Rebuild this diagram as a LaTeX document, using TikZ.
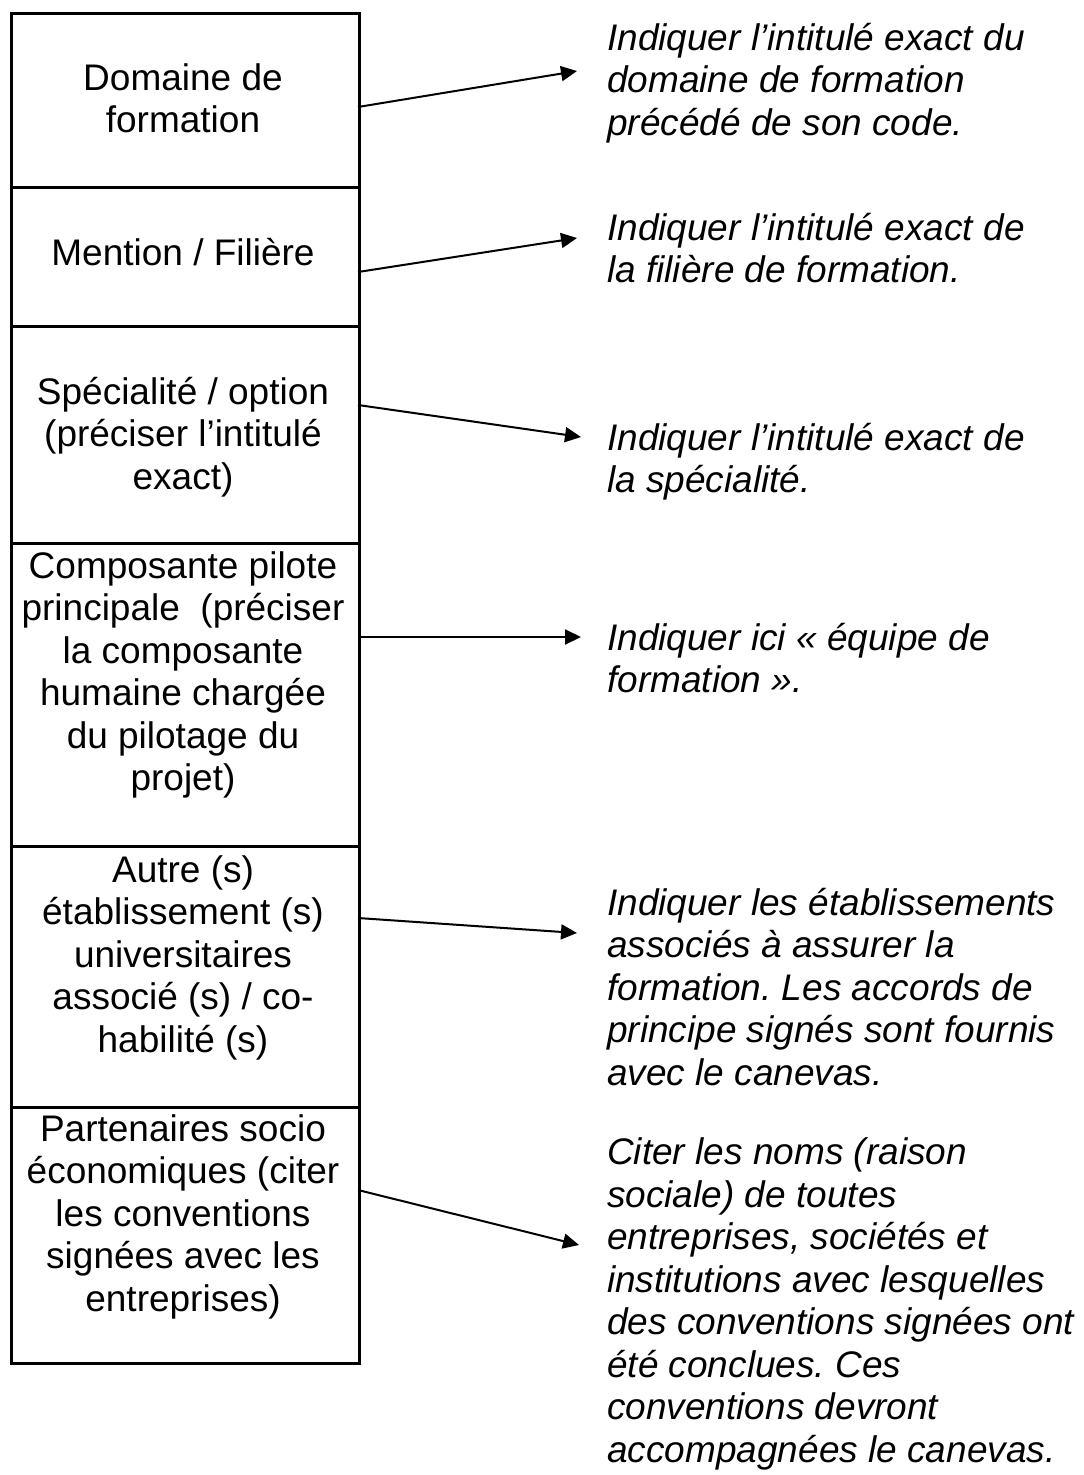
\documentclass[tikz,border=0pt]{standalone}
\usepackage{fontspec}
\setmainfont{Liberation Sans}
\usetikzlibrary{arrows.meta}
\frenchspacing
\begin{document}
\begin{tikzpicture}[x=1pt,y=-1pt,
  rowbox/.style={draw, line width=3pt, minimum width=348pt, inner sep=0pt, anchor=north west},
  lefttext/.style={align=center, anchor=base, inner sep=0pt, font=\fontsize{37}{42.5}\selectfont},
  righttext/.style={align=left, anchor=base west, inner sep=0pt, font=\fontsize{37}{42.5}\selectfont\itshape},
  conn/.style={line width=2pt, -{Triangle[length=16pt,width=15pt]}}]
\useasboundingbox (0,0) rectangle (1084,1475);
% rows of the table
\node[rowbox, minimum height=174pt] (r1) at (10,12) {};
\node[rowbox, minimum height=139pt] (r2) at (10,186) {};
\node[rowbox, minimum height=217pt] (r3) at (10,325) {};
\node[rowbox, minimum height=303pt] (r4) at (10,542) {};
\node[rowbox, minimum height=261pt] (r5) at (10,845) {};
\node[rowbox, minimum height=256pt] (r6) at (10,1106) {};
% left texts (anchor = baseline of the last line)
\node[lefttext] (l1) at (183,132.5) {Domaine de\\formation};
\node[lefttext] (l2) at (183,265) {Mention / Filière};
\node[lefttext] (l3) at (183,489) {Spécialité / option\\(préciser l’intitulé\\exact)};
\node[lefttext] (l4) at (183,790.5) {Composante pilote\\principale~ (préciser\\la composante\\humaine chargée\\du pilotage du\\projet)};
\node[lefttext] (l5) at (183,1052) {Autre (s)\\établissement (s)\\universitaires\\associé (s) / co-\\habilité (s)};
\node[lefttext] (l6) at (183,1311) {Partenaires socio\\économiques (citer\\les conventions\\signées avec les\\entreprises)};
% right texts
\node[righttext] (t1) at (607,135) {Indiquer l’intitulé exact du\\domaine de formation\\précédé de son code.};
\node[righttext] (t2) at (607,282.5) {Indiquer l’intitulé exact de\\la filière de formation.};
\node[righttext] (t3) at (607,492.5) {Indiquer l’intitulé exact de\\la spécialité.};
\node[righttext] (t4) at (607,692.5) {Indiquer ici « équipe de\\formation ».};
\node[righttext] (t5) at (607,1085) {Indiquer les établissements\\associés à assurer la\\formation. Les accords de\\principe signés sont fournis\\avec le canevas.};
\node[righttext] (t6) at (607,1462) {Citer les noms (raison\\sociale) de toutes\\entreprises, sociétés et\\institutions avec lesquelles\\des conventions signées ont\\été conclues. Ces\\conventions devront\\accompagnées le canevas.};
% connector ends
\coordinate (s1) at (358,107);  \coordinate (e1) at (577,71);
\coordinate (s2) at (358,272);  \coordinate (e2) at (577,238);
\coordinate (s3) at (358,405);  \coordinate (e3) at (581,437);
\coordinate (s4) at (358,637);  \coordinate (e4) at (581,637);
\coordinate (s5) at (358,918);  \coordinate (e5) at (577,933);
\coordinate (s6) at (358,1190); \coordinate (e6) at (579,1245);
\foreach \i in {1,...,6} { \draw[conn] (s\i) -- (e\i); }
\end{tikzpicture}
\end{document}
